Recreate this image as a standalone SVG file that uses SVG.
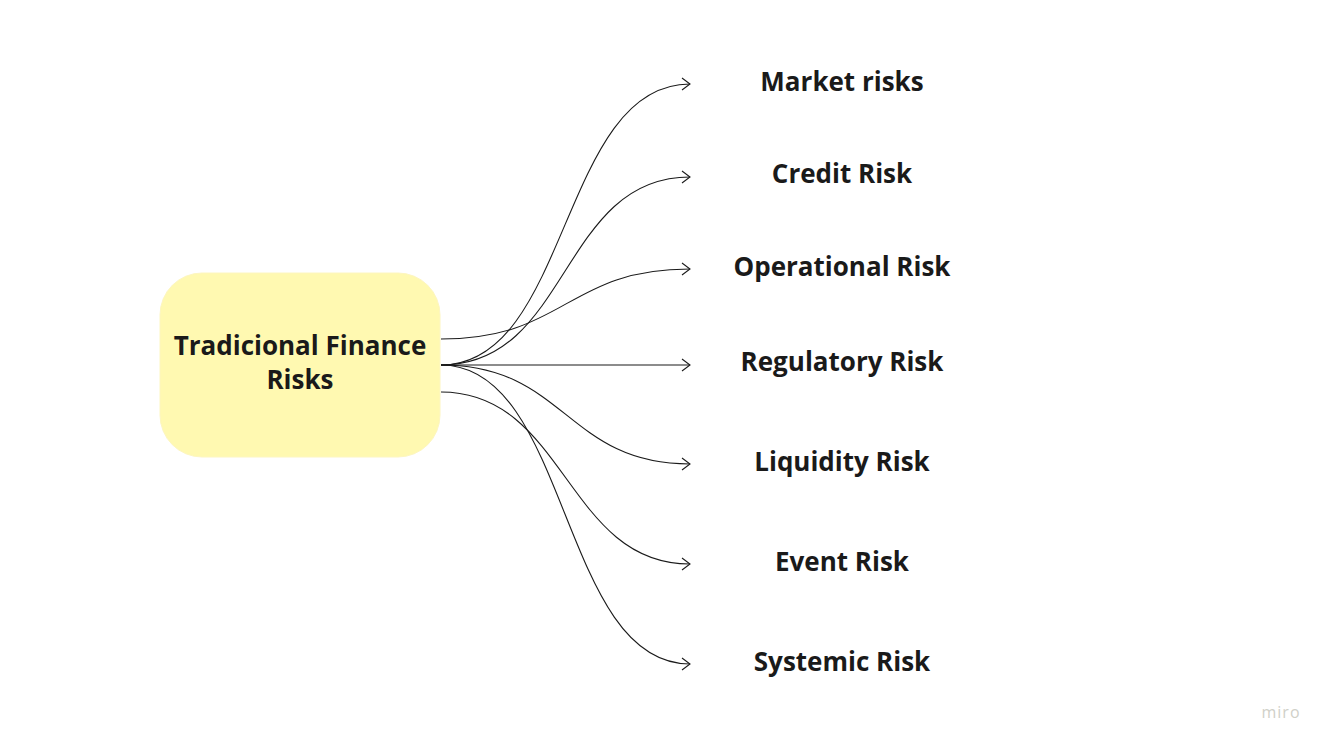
<svg xmlns="http://www.w3.org/2000/svg" width="1333" height="749" viewBox="0 0 1333 749">
<defs>
<marker id="arr" markerWidth="12" markerHeight="14" refX="10" refY="7" orient="auto" markerUnits="userSpaceOnUse">
<path d="M2,1 L10,7 L2,13" fill="none" stroke="#1a1a1a" stroke-width="1.1"/>
</marker>
</defs>
<style>
.lbl{font-family:"Open Sans","Noto Sans",sans-serif;font-weight:700;font-size:26px;fill:#1a1a1a;text-anchor:middle}
.c{fill:none;stroke:#1a1a1a;stroke-width:1.1;marker-end:url(#arr)}
</style>
<rect width="1333" height="749" fill="#ffffff"/>
<g id="connectors">
<path class="c" d="M441,365 C570,365 560,84 690,84"/>
<path class="c" d="M441,365 C570,365 560,177 690,177"/>
<path class="c" d="M441,339 C566,339 566,269 690,269"/>
<path class="c" d="M441,365 L690,365"/>
<path class="c" d="M441,365 C566,365 566,464 690,464"/>
<path class="c" d="M441,392 C566,392 566,564 690,564"/>
<path class="c" d="M441,365 C570,365 560,664 690,664"/>
</g>
<g id="center">
<rect x="160" y="273" width="280" height="184" rx="42" ry="42" fill="#fff9b1" stroke="#fdf6c0" stroke-width="1"/>
<text class="lbl" x="300" y="355">Tradicional Finance</text>
<text class="lbl" x="300" y="389">Risks</text>
</g>
<g id="market"><text class="lbl" x="842" y="91">Market risks</text></g>
<g id="credit"><text class="lbl" x="842" y="183">Credit Risk</text></g>
<g id="operational"><text class="lbl" x="842" y="276">Operational Risk</text></g>
<g id="regulatory"><text class="lbl" x="842" y="371">Regulatory Risk</text></g>
<g id="liquidity"><text class="lbl" x="842" y="471">Liquidity Risk</text></g>
<g id="event"><text class="lbl" x="842" y="571">Event Risk</text></g>
<g id="systemic"><text class="lbl" x="842" y="671">Systemic Risk</text></g>
<text x="1281" y="718" font-family="Open Sans, sans-serif" font-size="16" fill="#d0d0c8" text-anchor="middle" letter-spacing="1">miro</text>
</svg>
